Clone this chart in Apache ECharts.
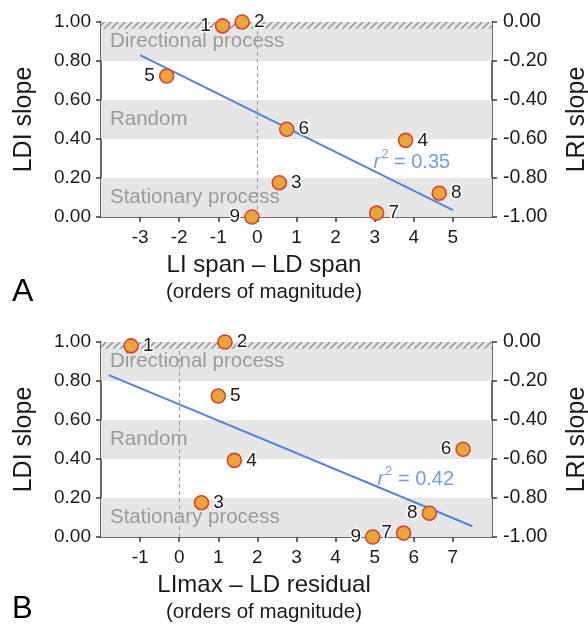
<!DOCTYPE html>
<html>
<head>
<meta charset="utf-8">
<script src="https://cdn.jsdelivr.net/npm/echarts@6/dist/echarts.min.js"></script>
<style>
html,body{margin:0;padding:0;background:#fff;}
#chart{width:588px;height:628px;}
</style>
</head>
<body>
<div id="chart"></div>
<script>
// ---------- data ----------
const pointIds = ['1','2','3','4','5','6','7','8','9'];
const ldiSlope = [0.98, 1.0, 0.176, 0.393, 0.723, 0.45, 0.02, 0.122, 0.0];
const spanDiffA = [-0.89, -0.39, 0.56, 3.79, -2.32, 0.75, 3.05, 4.65, -0.14];
const residualB = [-1.23, 1.17, 0.57, 1.41, 1.0, 7.26, 5.74, 6.40, 4.95];
const fitXA = [-3, 5];
const fitYA = [0.83, 0.035];
const fitXB = [-1.8, 7.5];
const fitYB = [0.83, 0.055];
const r2A = '0.35';
const r2B = '0.42';
const r2PosA = [3.95, 0.28];
const r2PosB = [6.05, 0.295];
const bandNames = ['Directional process', 'Random', 'Stationary process'];
const bandLow = [0.8, 0.4, 0.0];
const bandHigh = [1.0, 0.6, 0.2];
const hatchRange = [0.965, 1.0];
const zeroLineRange = [0, 0.96];
const xRangeA = [-4, 6];
const xRangeB = [-2, 8];
const xTitleA = 'LI span \u2013 LD span';
const xTitleB = 'LImax \u2013 LD residual';
const xSubtitle = '(orders of magnitude)';

// label sides (style)
const sideA = ['left','right','right','right','left','right','right','right','left'];
const sideB = ['right','right','right','right','right','left','left','left','left'];

// ---------- styles ----------
const FONT = 'Liberation Sans, Arial, Helvetica, sans-serif';
const AXIS_COLOR = '#3a3a3a';
const TEXT_COLOR = '#1a1a1a';

function hatchPattern() {
  const c = document.createElement('canvas');
  c.width = 7; c.height = 7;
  const g = c.getContext('2d');
  g.strokeStyle = '#8e8e8e';
  g.lineWidth = 1.3;
  g.beginPath();
  g.moveTo(0, 7); g.lineTo(7, 0);
  g.moveTo(-1, 1); g.lineTo(1, -1);
  g.moveTo(6, 8); g.lineTo(8, 6);
  g.stroke();
  return { image: c, repeat: 'repeat' };
}
const pattern = hatchPattern();

const chart = echarts.init(document.getElementById('chart'), null, { renderer: 'canvas' });

const grids = [
  { left: 101, width: 391, top: 22, height: 195, containLabel: false, outerBoundsMode: 'none' },
  { left: 101, width: 391, top: 342, height: 195, containLabel: false, outerBoundsMode: 'none' }
];

function xAxisFor(idx, range, title) {
  return {
    type: 'value', gridIndex: idx, min: range[0], max: range[1], interval: 1,
    position: 'bottom',
    axisLine: { show: true, onZero: false, lineStyle: { color: AXIS_COLOR, width: 1.5 } },
    axisTick: { show: true, length: 5, lineStyle: { color: AXIS_COLOR, width: 1.5 } },
    splitLine: { show: false },
    axisLabel: { showMinLabel: false, showMaxLabel: false, fontFamily: FONT, fontSize: 19, color: TEXT_COLOR, margin: 11 },
    name: '{a|' + title + '}\n{b|' + xSubtitle + '}',
    nameLocation: 'middle', nameGap: 34,
    nameTextStyle: {
      fontFamily: FONT, color: TEXT_COLOR, align: 'center', verticalAlign: 'top',
      padding: [0, 65, 0, 0],
      rich: {
        a: { fontFamily: FONT, fontSize: 24, color: TEXT_COLOR, lineHeight: 28, align: 'center' },
        b: { fontFamily: FONT, fontSize: 20.5, color: TEXT_COLOR, lineHeight: 26, align: 'center' }
      }
    }
  };
}

function yLeft(idx) {
  return {
    type: 'value', gridIndex: idx, min: 0, max: 1, interval: 0.2, position: 'left',
    axisLine: { show: true, onZero: false, lineStyle: { color: AXIS_COLOR, width: 1.5 } },
    axisTick: { show: true, length: 5, lineStyle: { color: AXIS_COLOR, width: 1.5 } },
    splitLine: { show: false },
    axisLabel: { fontFamily: FONT, fontSize: 19, color: TEXT_COLOR, margin: 10,
      formatter: v => Math.abs(v).toFixed(2) },
    name: 'LDI slope', nameLocation: 'middle', nameGap: 64, nameRotate: 90,
    nameTextStyle: { fontFamily: FONT, fontSize: 25, color: TEXT_COLOR }
  };
}
function yRight(idx) {
  return {
    type: 'value', gridIndex: idx, min: -1, max: 0, interval: 0.2, position: 'right',
    axisLine: { show: true, onZero: false, lineStyle: { color: AXIS_COLOR, width: 1.5 } },
    axisTick: { show: true, length: 5, lineStyle: { color: AXIS_COLOR, width: 1.5 } },
    splitLine: { show: false },
    axisLabel: { fontFamily: FONT, fontSize: 19.5, color: TEXT_COLOR, margin: 11,
      formatter: v => (Math.abs(v) < 1e-9 ? '0.00' : v.toFixed(2)) },
    name: 'LRI slope', nameLocation: 'middle', nameGap: 73, nameRotate: 90,
    nameTextStyle: { fontFamily: FONT, fontSize: 25, color: TEXT_COLOR }
  };
}

function bandAreas() {
  const areas = bandNames.map((n, i) => [
    { yAxis: bandLow[i], name: n, itemStyle: { color: '#e6e6e6' } },
    { yAxis: bandHigh[i] }
  ]);
  areas.push([
    { yAxis: hatchRange[0], name: '', itemStyle: { color: pattern }, label: { show: false } },
    { yAxis: hatchRange[1] }
  ]);
  return areas;
}

function panelSeries(idx, xs, sides, fitX, fitY, r2, r2Pos) {
  const pts = xs.map((x, i) => ({
    value: [x, ldiSlope[i], pointIds[i]],
    label: { position: sides[i] }
  }));
  return [
    {
      type: 'scatter', xAxisIndex: idx, yAxisIndex: idx * 2, z: 4, clip: false,
      symbol: 'circle', symbolSize: 14,
      itemStyle: { color: '#e8a53d', borderColor: '#d8432b', borderWidth: 1.6, opacity: 1 },
      label: {
        show: true, formatter: p => p.value[2], distance: 4,
        fontFamily: FONT, fontSize: 19, color: TEXT_COLOR,
        textBorderColor: '#fff', textBorderWidth: 3
      },
      emphasis: { disabled: true },
      data: pts,
      markArea: {
        silent: true, z: 1,
        label: { show: true, position: 'insideLeft', distance: 9, fontFamily: FONT, fontSize: 20.5, color: '#9a9a9a' },
        data: bandAreas()
      },
      markLine: {
        silent: true, z: 1, symbol: ['none', 'none'],
        lineStyle: { type: [4, 3], color: '#9a9a9a', width: 1 },
        label: { show: false },
        data: [[{ coord: [0, zeroLineRange[0]] }, { coord: [0, zeroLineRange[1]] }]]
      }
    },
    {
      type: 'line', xAxisIndex: idx, yAxisIndex: idx * 2, z: 3,
      showSymbol: false, symbol: 'none',
      lineStyle: { color: '#4f84e0', width: 2 },
      emphasis: { disabled: true },
      data: fitX.map((x, i) => [x, fitY[i]])
    },
    {
      type: 'scatter', xAxisIndex: idx, yAxisIndex: idx * 2, z: 3,
      symbolSize: 0,
      label: {
        show: true, position: 'inside',
        formatter: '{i|r}{s|2}{n| = ' + r2 + '}',
        rich: {
          i: { fontFamily: FONT, fontSize: 20, fontStyle: 'italic', color: '#4f84e0' },
          s: { fontFamily: FONT, fontSize: 13, color: '#4f84e0', verticalAlign: 'bottom', padding: [0, 0, 16, 1] },
          n: { fontFamily: FONT, fontSize: 20, color: '#4f84e0' }
        }
      },
      emphasis: { disabled: true },
      data: [r2Pos]
    }
  ];
}

const option = {
  animation: false,
  backgroundColor: '#fff',
  grid: grids,
  xAxis: [xAxisFor(0, xRangeA, xTitleA), xAxisFor(1, xRangeB, xTitleB)],
  yAxis: [yLeft(0), yRight(0), yLeft(1), yRight(1)],
  series: [
    ...panelSeries(0, spanDiffA, sideA, fitXA, fitYA, r2A, r2PosA),
    ...panelSeries(1, residualB, sideB, fitXB, fitYB, r2B, r2PosB)
  ],
  graphic: [
    { type: 'text', left: 12, top: 276, style: { text: 'A', font: '32px ' + FONT, fill: '#000' } },
    { type: 'text', left: 12, top: 594, style: { text: 'B', font: '31px ' + FONT, fill: '#000' } }
  ]
};
chart.setOption(option);
</script>
</body>
</html>
